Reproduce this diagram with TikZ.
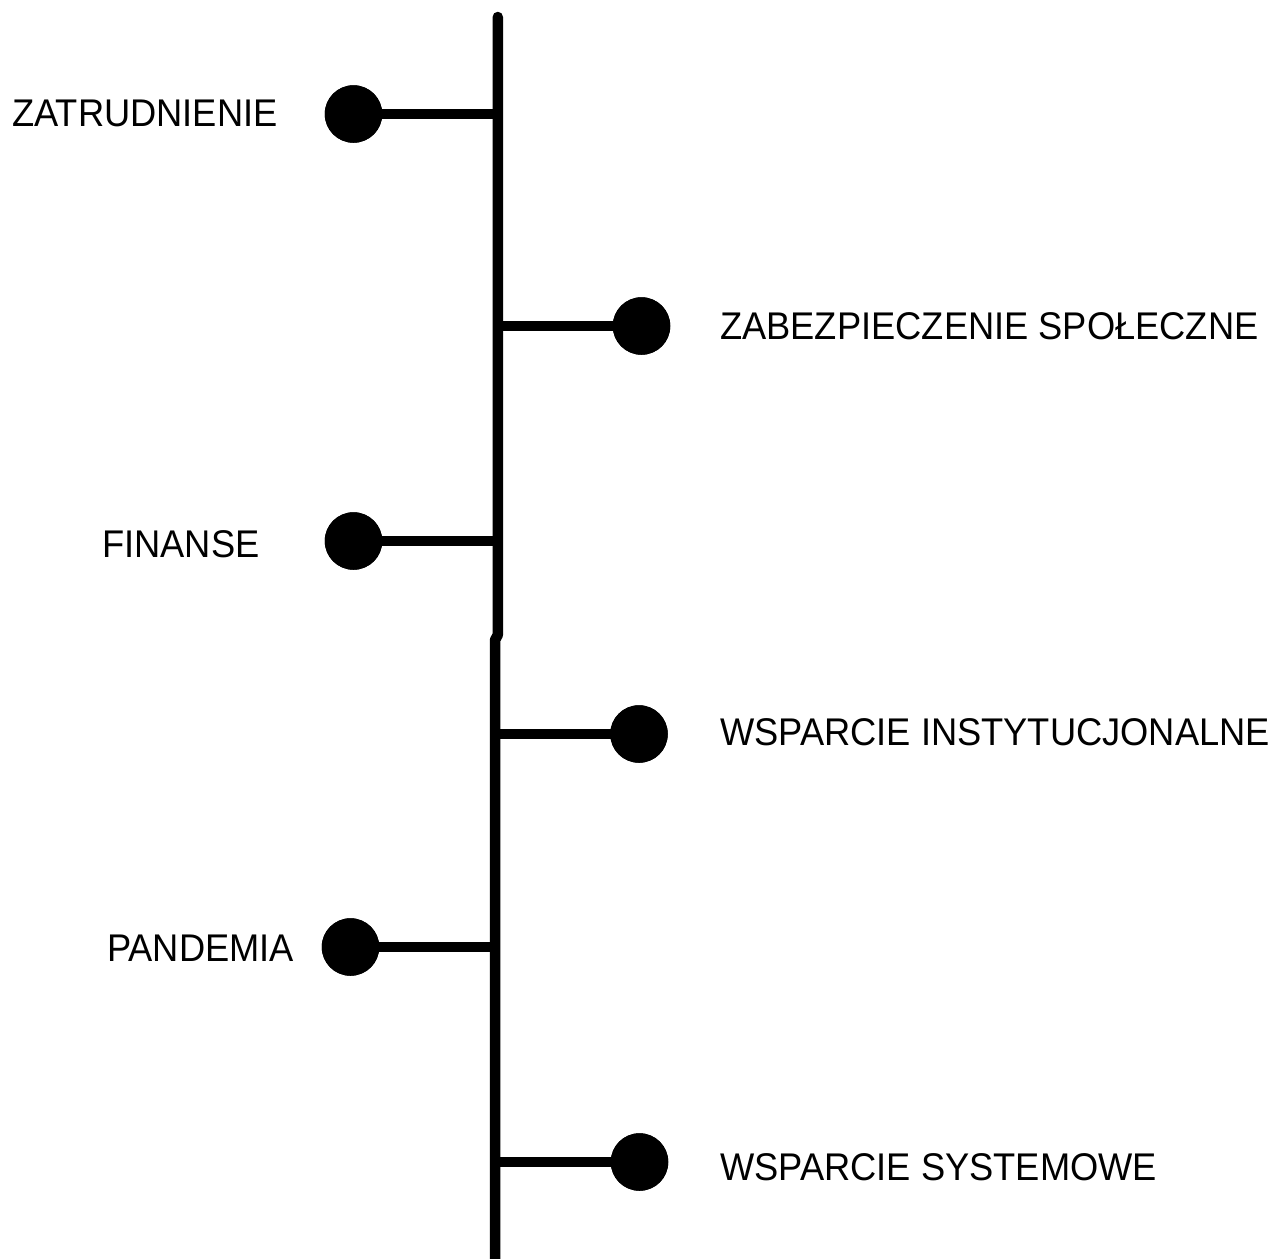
\documentclass[tikz,border=0pt]{standalone}
\usepackage{fontspec}
\setmainfont{Liberation Sans}[FakeStretch=0.94]
\begin{document}
\begin{tikzpicture}[x=1pt,y=-1pt,
  spine/.style={line width=10.5pt,line cap=round,line join=round},
  branch/.style={line width=10.5pt},
  dot/.style={circle,fill=black,inner sep=0pt,minimum size=57.5pt},
  lbl/.style={inner sep=0pt,anchor=base west,font=\fontsize{38.6}{42}\selectfont}
]
\useasboundingbox (0,0) rectangle (1281,1258);
% spine coordinates
\coordinate (top) at (497.8,17);
\coordinate (jA) at (497.8,635);
\coordinate (jB) at (495,640);
\coordinate (bot) at (495,1262);
\coordinate (s1) at (497.8,114);
\coordinate (s2) at (497.8,326);
\coordinate (s3) at (497.8,541);
\coordinate (s4) at (495,734);
\coordinate (s5) at (495,947);
\coordinate (s6) at (495,1162);
% dots
\node[dot] (d1) at (353.5,114) {};
\node[dot] (d2) at (641.5,326) {};
\node[dot] (d3) at (353.5,541) {};
\node[dot] (d4) at (639,734) {};
\node[dot] (d5) at (350.5,947) {};
\node[dot] (d6) at (639.5,1162) {};
% spine
\draw[spine] (top) -- (jA) -- (jB) -- (bot);
% branches
\draw[branch] (s1) -- (d1.center);
\draw[branch] (s2) -- (d2.center);
\draw[branch] (s3) -- (d3.center);
\draw[branch] (s4) -- (d4.center);
\draw[branch] (s5) -- (d5.center);
\draw[branch] (s6) -- (d6.center);
\node[dot] at (d1) {};
\node[dot] at (d2) {};
\node[dot] at (d3) {};
\node[dot] at (d4) {};
\node[dot] at (d5) {};
\node[dot] at (d6) {};
% labels
\node[lbl] (l1) at (12,126) {ZATRUDNIENIE};
\node[lbl] (l2) at (720,339) {ZABEZPIECZENIE SPOŁECZNE};
\node[lbl] (l3) at (102,557) {FINANSE};
\node[lbl] (l4) at (720,745) {WSPARCIE INSTYTUCJONALNE};
\node[lbl] (l5) at (107,961) {PANDEMIA};
\node[lbl] (l6) at (720,1180) {WSPARCIE SYSTEMOWE};
\end{tikzpicture}
\end{document}
